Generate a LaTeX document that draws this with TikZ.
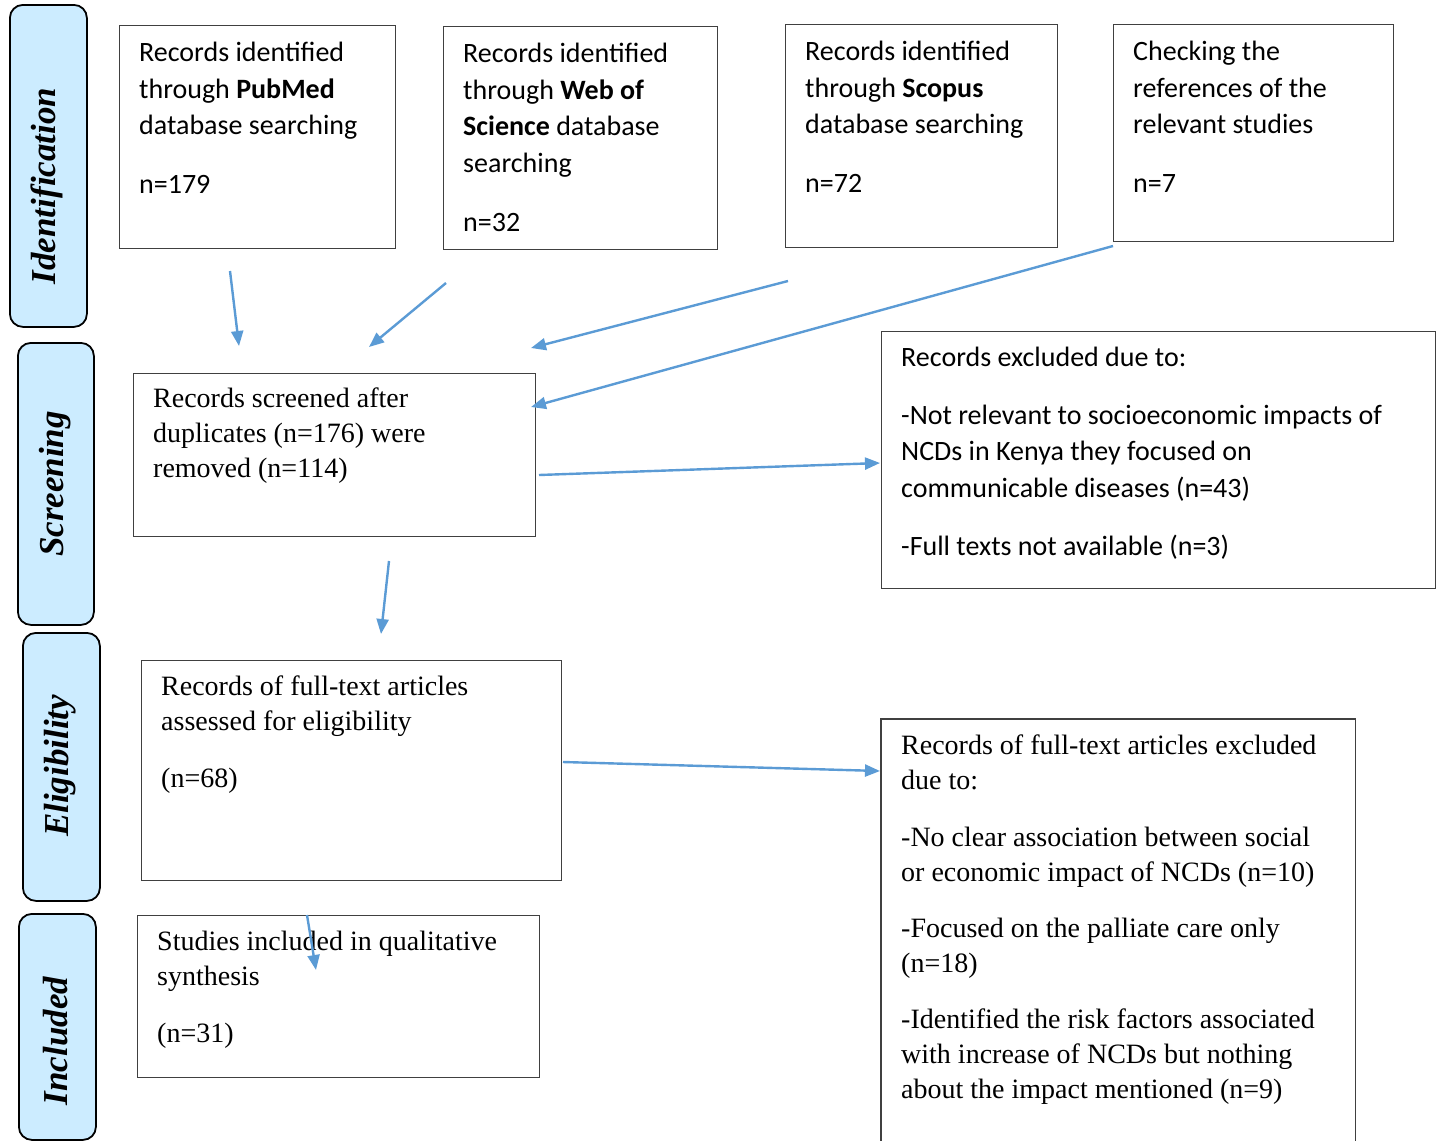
\documentclass[tikz,border=0pt]{standalone}
\usepackage{fontspec}
\setmainfont{Liberation Serif}
\newfontfamily\boxsans{Carlito}
\usetikzlibrary{arrows.meta}
\definecolor{flowblue}{RGB}{91,155,213}
\definecolor{stagefill}{RGB}{204,236,255}
\tikzset{
  frame/.style={draw=black!75, line width=1.3pt, inner sep=0pt, anchor=north west},
  stage/.style={draw=black, fill=stagefill, line width=1.8pt, rounded corners=13pt, inner sep=0pt, anchor=north west},
  stagetext/.style={rotate=90, font=\fontsize{35}{40}\selectfont\bfseries\itshape},
  sanstext/.style={anchor=north west, inner sep=0pt, align=left, font=\boxsans\fontsize{28}{36.6}\selectfont},
  seriftext/.style={anchor=north west, inner sep=0pt, align=left, font=\fontsize{28}{35}\selectfont},
  flow/.style={draw=flowblue, line width=2.4pt, -{Triangle[length=15pt,width=12pt]}}
}
\begin{document}
\begin{tikzpicture}[x=1pt,y=-1pt]
\useasboundingbox (0,0) rectangle (1441,1141);
% stage labels on the left
\node[stage, minimum width=77pt, minimum height=322pt] (ident) at (9,4) {};
\node[stagetext] at (47,186) {Identification};
\node[stage, minimum width=76pt, minimum height=282pt] (screen) at (17,342) {};
\node[stagetext] at (55,484) {Screening};
\node[stage, minimum width=77pt, minimum height=268pt] (elig) at (22,632) {};
\node[stagetext] at (60,766) {Eligibility};
\node[stage, minimum width=77pt, minimum height=226pt] (incl) at (18,913) {};
\node[stagetext] at (56,1041) {Included};
% identification boxes
\node[frame, minimum width=276pt, minimum height=223pt] (pubmed) at (119,25) {};
\node[sanstext] at (139,42) {Records identified\\through \textbf{PubMed}\\database searching\\[22pt]n=179};
\node[frame, minimum width=274pt, minimum height=223pt] (wos) at (443,26) {};
\node[sanstext] at (463,43) {Records identified\\through \textbf{Web of}\\\textbf{Science} database\\searching\\[22pt]n=32};
\node[frame, minimum width=272pt, minimum height=223pt] (scopus) at (785,24) {};
\node[sanstext] at (805,41) {Records identified\\through \textbf{Scopus}\\database searching\\[22pt]n=72};
\node[frame, minimum width=280pt, minimum height=217pt] (refs) at (1113,24) {};
\node[sanstext] at (1133,41) {Checking the\\references of the\\relevant studies\\[22pt]n=7};
% screening
\node[frame, minimum width=402pt, minimum height=163pt] (screened) at (133,373) {};
\node[seriftext] at (153,388) {Records screened after\\duplicates (n=176) were\\removed (n=114)};
\node[frame, minimum width=554pt, minimum height=257pt] (excl1) at (881,331) {};
\node[sanstext] at (901,347) {Records excluded due to:\\[21pt]-Not relevant to socioeconomic impacts of\\NCDs in Kenya they focused on\\communicable diseases (n=43)\\[21pt]-Full texts not available (n=3)};
% eligibility
\node[frame, minimum width=420pt, minimum height=220pt] (fulltext) at (141,660) {};
\node[seriftext] at (161,676) {Records of full-text articles\\assessed for eligibility\\[22pt](n=68)};
\node[inner sep=0pt, minimum width=474pt, minimum height=422pt, anchor=north west] (excl2) at (881,719) {};
\draw[draw=black!75, line width=1.3pt] (excl2.south west) -- (excl2.north west) -- (excl2.north east) -- (excl2.south east);
\node[seriftext] at (901,735) {Records of full-text articles excluded\\due to:\\[22pt]-No clear association between social\\or economic impact of NCDs (n=10)\\[21pt]-Focused on the palliate care only\\(n=18)\\[21pt]-Identified the risk factors associated\\with increase of NCDs but nothing\\about the impact mentioned (n=9)};
% included
\node[frame, minimum width=402pt, minimum height=162pt] (studies) at (137,915) {};
\node[seriftext] at (157,931) {Studies included in qualitative\\synthesis\\[22pt](n=31)};
% arrows
\coordinate (p1) at (230,271); \coordinate (q1) at (239,346);
\coordinate (p2) at (446,283); \coordinate (q2) at (369,347);
\coordinate (p3) at (788,281); \coordinate (q3) at (531,348);
\coordinate (p4) at (1113,246); \coordinate (q4) at (531,407);
\coordinate (p5) at (539,475); \coordinate (q5) at (880,463);
\coordinate (p6) at (389,561); \coordinate (q6) at (381,634);
\coordinate (p7) at (563,762); \coordinate (q7) at (880,771);
\coordinate (p8) at (307,915); \coordinate (q8) at (316,970);
\foreach \i in {1,...,8} \draw[flow] (p\i) -- (q\i);
\end{tikzpicture}
\end{document}
